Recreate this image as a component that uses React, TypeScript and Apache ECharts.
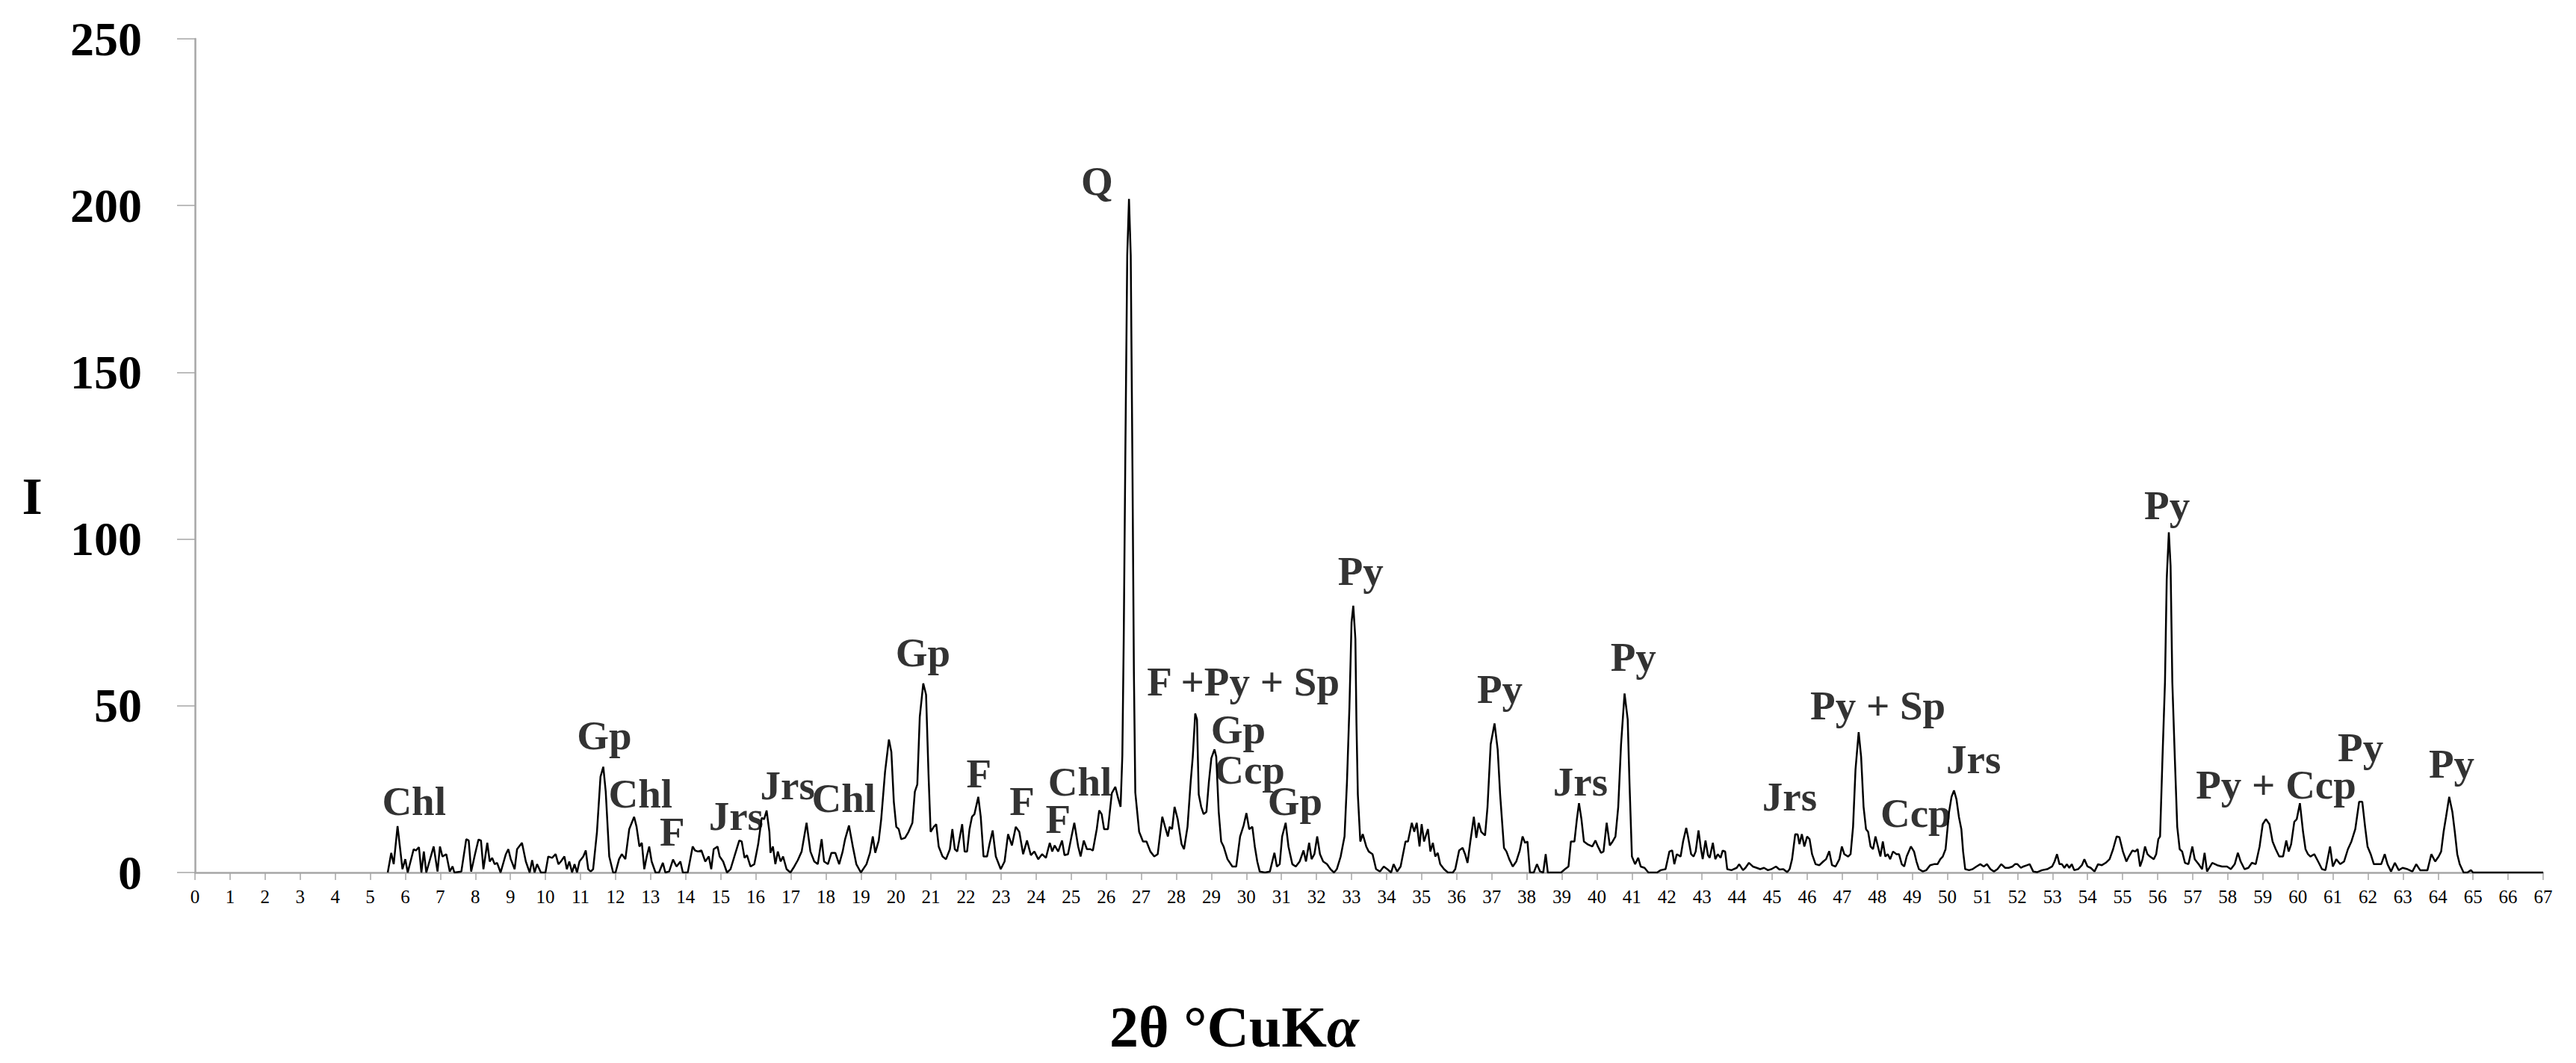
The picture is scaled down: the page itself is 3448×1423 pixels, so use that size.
import React, { useEffect, useRef } from "react";
import * as echarts from "echarts";

// 2θ (°) / intensity pairs, split by range
const scan05to15: [number, number][] = [
  [5.5, 0], [5.6, 5.9], [5.67, 2.5], [5.78, 13.9], [5.92, 1.0], [6.0, 4.0], [6.07, 0], [6.24, 7.0], [6.3, 6.6], [6.39, 7.6],
  [6.46, 0], [6.53, 6.3], [6.6, 0], [6.81, 7.8], [6.92, 0.3], [6.99, 7.8], [7.06, 4.8], [7.17, 5.5], [7.27, 0.3], [7.35, 1.8],
  [7.4, 0], [7.6, 0.3], [7.74, 10.0], [7.81, 9.6], [7.88, 0.3], [7.99, 5.5], [8.09, 9.9], [8.16, 9.6], [8.23, 1.0], [8.34, 8.9],
  [8.41, 3.3], [8.48, 4.4], [8.55, 2.5], [8.62, 2.9], [8.72, 0], [8.87, 5.5], [8.94, 7.0], [9.01, 4.0], [9.12, 1.0], [9.19, 7.0],
  [9.33, 8.9], [9.44, 3.3], [9.55, 0], [9.62, 3.7], [9.69, 0], [9.76, 2.5], [9.87, 0], [10.0, 0], [10.08, 4.8], [10.19, 4.4],
  [10.29, 5.5], [10.37, 2.5], [10.44, 3.3], [10.54, 4.8], [10.61, 1.0], [10.68, 3.3], [10.76, 0], [10.83, 2.5], [10.9, 0], [10.97, 3.3],
  [11.08, 4.8], [11.15, 6.6], [11.22, 1.0], [11.29, 0.3], [11.36, 1.0], [11.47, 12.2], [11.57, 28.7], [11.65, 31.7], [11.72, 24.2], [11.82, 4.8],
  [11.93, 0], [12.0, 0], [12.1, 4.0], [12.18, 5.5], [12.28, 4.0], [12.39, 13.0], [12.53, 16.7], [12.6, 13.7], [12.68, 7.8], [12.75, 8.9],
  [12.82, 1.0], [12.89, 4.8], [12.96, 7.8], [13.03, 3.3], [13.14, 0], [13.24, 0], [13.35, 2.9], [13.42, 0], [13.53, 0.3], [13.64, 3.9],
  [13.74, 1.8], [13.85, 3.3], [13.92, 0], [14.06, 0], [14.2, 7.8], [14.27, 6.6], [14.35, 6.3], [14.45, 6.6], [14.56, 3.3], [14.66, 4.8],
  [14.73, 1.0], [14.8, 7.0], [14.91, 7.8], [14.97, 4.8],
];

const scan15to25: [number, number][] = [
  [15.07, 3.3], [15.18, 0], [15.28, 1.0], [15.39, 4.8], [15.53, 9.6], [15.6, 9.3], [15.68, 4.4], [15.75, 5.2], [15.85, 1.8], [15.96, 2.5],
  [16.07, 8.5], [16.17, 16.4], [16.24, 16.0], [16.31, 18.6], [16.39, 12.2], [16.42, 5.9], [16.49, 7.8], [16.56, 2.5], [16.63, 6.3], [16.71, 3.3],
  [16.78, 4.8], [16.88, 1.0], [16.99, 0], [17.1, 1.8], [17.2, 3.7], [17.31, 6.3], [17.45, 14.9], [17.56, 6.3], [17.67, 3.3], [17.77, 2.5],
  [17.88, 10.0], [17.95, 3.3], [18.06, 2.5], [18.16, 5.9], [18.27, 5.9], [18.38, 2.5], [18.48, 6.3], [18.55, 10.0], [18.66, 14.1], [18.77, 7.8],
  [18.87, 2.5], [19.0, 0], [19.16, 2.5], [19.26, 5.9], [19.34, 10.8], [19.41, 5.9], [19.51, 9.6], [19.58, 16.0], [19.69, 30.2], [19.8, 39.9],
  [19.87, 36.1], [19.94, 21.2], [20.01, 13.7], [20.08, 13.0], [20.15, 10.0], [20.26, 10.4], [20.36, 12.2], [20.47, 14.9], [20.54, 24.2], [20.61, 26.4],
  [20.68, 46.6], [20.78, 56.7], [20.86, 53.3], [20.93, 29.4], [20.99, 12.2], [21.08, 13.7], [21.15, 14.5], [21.22, 7.8], [21.33, 4.8], [21.43, 4.0],
  [21.54, 7.0], [21.61, 13.0], [21.68, 7.0], [21.75, 6.3], [21.89, 14.5], [21.96, 6.3], [22.03, 6.3], [22.1, 13.0], [22.17, 16.7], [22.24, 17.5],
  [22.35, 22.7], [22.42, 16.7], [22.5, 4.8], [22.6, 4.8], [22.67, 8.5], [22.76, 12.6], [22.85, 4.8], [22.99, 1.0], [23.1, 3.3], [23.2, 11.5],
  [23.31, 8.1], [23.42, 13.7], [23.52, 12.2], [23.63, 5.5], [23.74, 9.6], [23.85, 5.2], [23.95, 6.3], [24.06, 4.0], [24.17, 5.5], [24.28, 4.4],
  [24.39, 8.9], [24.46, 6.3], [24.53, 8.1], [24.63, 6.3], [24.74, 9.6], [24.81, 5.2], [24.91, 5.5], [25.01, 10.8],
];

const scan25to35: [number, number][] = [
  [25.09, 14.9], [25.2, 7.8], [25.27, 4.8], [25.36, 9.6], [25.45, 7.0], [25.55, 7.0], [25.62, 6.6], [25.73, 13.0], [25.8, 18.6], [25.87, 17.5],
  [25.94, 13.0], [26.05, 13.0], [26.16, 23.8], [26.26, 25.7], [26.34, 22.3], [26.41, 19.7], [26.46, 35], [26.5, 70], [26.55, 130], [26.6, 185],
  [26.65, 202], [26.7, 185], [26.75, 120], [26.79, 60], [26.83, 24], [26.94, 12.2], [27.05, 9.3], [27.15, 9.3], [27.26, 6.3], [27.37, 4.8],
  [27.47, 5.5], [27.6, 16.7], [27.68, 13.7], [27.76, 10.8], [27.81, 13.7], [27.88, 13.0], [27.95, 19.7], [28.04, 16.0], [28.15, 8.5], [28.22, 7.0],
  [28.32, 13.7], [28.41, 27.2], [28.47, 34.7], [28.54, 47.7], [28.59, 45.9], [28.64, 23.4], [28.71, 19.7], [28.78, 17.5], [28.86, 18.2], [28.93, 27.2],
  [29.0, 34.3], [29.09, 36.9], [29.14, 34.7], [29.21, 18.2], [29.28, 9.3], [29.35, 7.8], [29.46, 4.0], [29.6, 1.8], [29.71, 1.8], [29.82, 10.8],
  [29.92, 14.1], [30.0, 17.8], [30.08, 13.0], [30.17, 13.7], [30.24, 7.8], [30.31, 3.3], [30.38, 0.3], [30.53, 0], [30.67, 0.3], [30.8, 5.9],
  [30.87, 1.8], [30.95, 2.5], [31.02, 10.8], [31.12, 14.9], [31.2, 7.8], [31.31, 2.5], [31.41, 1.8], [31.52, 3.3], [31.63, 6.6], [31.7, 3.3],
  [31.79, 8.9], [31.86, 4.0], [31.94, 5.5], [32.02, 10.8], [32.1, 5.5], [32.19, 3.3], [32.3, 2.5], [32.4, 1.0], [32.5, 0], [32.58, 1.0],
  [32.69, 4.8], [32.8, 10.8], [32.87, 27.2], [32.94, 49.6], [33.0, 75], [33.05, 80], [33.11, 70], [33.14, 45], [33.18, 23.4], [33.25, 9.3],
  [33.32, 11.5], [33.42, 7.8], [33.49, 6.3], [33.6, 5.5], [33.7, 1.0], [33.81, 0.3], [33.92, 1.8], [34.02, 1.0], [34.13, 0], [34.2, 2.5],
  [34.3, 0.3], [34.4, 1.8], [34.54, 9.3], [34.61, 9.3], [34.72, 14.9], [34.79, 12.2], [34.86, 14.9], [34.94, 7.8], [35.0, 14.5],
];

const scan35to45: [number, number][] = [
  [35.07, 9.3], [35.18, 13.0], [35.25, 6.3], [35.32, 8.9], [35.39, 4.8], [35.46, 5.9], [35.53, 2.5], [35.64, 1.0], [35.75, 0], [35.89, 0],
  [35.96, 1.0], [36.07, 6.6], [36.17, 7.4], [36.24, 5.5], [36.31, 2.9], [36.39, 9.3], [36.49, 16.7], [36.56, 10.4], [36.63, 14.9], [36.7, 12.2],
  [36.81, 11.1], [36.88, 19.7], [36.97, 38.4], [37.08, 44.7], [37.17, 36.9], [37.24, 23.4], [37.35, 7.4], [37.42, 6.3], [37.5, 4.0], [37.6, 1.8],
  [37.7, 3.3], [37.8, 6.6], [37.88, 10.8], [37.95, 8.9], [38.02, 9.3], [38.09, 0], [38.2, 0], [38.29, 2.5], [38.38, 0.3], [38.47, 0],
  [38.54, 5.5], [38.6, 0], [38.98, 0], [39.09, 1.0], [39.19, 1.8], [39.26, 9.3], [39.36, 9.3], [39.43, 16.0], [39.49, 20.8], [39.56, 16.0],
  [39.63, 9.3], [39.73, 8.5], [39.87, 7.8], [39.96, 9.6], [40.03, 7.8], [40.12, 5.9], [40.19, 6.3], [40.28, 14.9], [40.37, 8.1], [40.45, 9.3],
  [40.53, 10.8], [40.61, 19.7], [40.69, 38.4], [40.79, 53.7], [40.88, 45.9], [40.93, 27.2], [41.0, 4.8], [41.09, 2.5], [41.18, 4.4], [41.25, 1.8],
  [41.36, 1.4], [41.47, 0], [41.72, 0], [41.82, 0.7], [41.96, 1.0], [42.07, 6.3], [42.15, 6.6], [42.21, 2.5], [42.28, 5.5], [42.39, 4.8],
  [42.46, 9.3], [42.55, 13.4], [42.6, 10.8], [42.69, 5.5], [42.76, 4.8], [42.82, 6.3], [42.9, 12.6], [42.96, 7.8], [43.02, 4.0], [43.1, 9.6],
  [43.17, 5.2], [43.22, 4.4], [43.31, 8.9], [43.38, 4.0], [43.45, 5.5], [43.53, 4.4], [43.59, 6.6], [43.66, 6.3], [43.72, 1.0], [43.84, 0.7],
  [43.99, 1.4], [44.06, 2.5], [44.17, 0.7], [44.24, 1.4], [44.34, 2.9], [44.45, 1.8], [44.56, 1.4], [44.66, 1.0], [44.77, 1.4], [44.88, 0.7],
  [44.98, 1.0],
];

const scan45to55: [number, number][] = [
  [45.11, 1.8], [45.21, 0.9], [45.32, 1.0], [45.43, 0.1], [45.5, 1.0], [45.57, 4.0], [45.66, 11.5], [45.73, 11.4], [45.78, 8.5], [45.85, 11.5],
  [45.92, 7.8], [46.0, 10.8], [46.07, 10.0], [46.14, 5.5], [46.24, 2.5], [46.35, 2.2], [46.46, 3.3], [46.54, 4.0], [46.63, 6.4], [46.71, 2.2],
  [46.81, 1.8], [46.92, 4.0], [46.99, 7.8], [47.06, 5.5], [47.17, 4.8], [47.24, 5.5], [47.31, 13.7], [47.38, 30.9], [47.47, 42.1], [47.54, 34.7],
  [47.61, 19.7], [47.68, 13.0], [47.74, 12.2], [47.81, 7.8], [47.88, 7.0], [47.95, 10.8], [48.02, 7.8], [48.09, 4.8], [48.16, 9.3], [48.23, 4.8],
  [48.3, 5.5], [48.37, 4.0], [48.45, 6.3], [48.55, 5.5], [48.62, 5.5], [48.7, 2.5], [48.77, 1.8], [48.84, 4.8], [48.96, 7.8], [49.05, 6.3],
  [49.12, 3.3], [49.19, 1.0], [49.3, 0.3], [49.4, 0.7], [49.51, 2.2], [49.62, 2.5], [49.72, 2.5], [49.8, 4.0], [49.87, 4.8], [49.95, 7.0],
  [50.05, 18.2], [50.12, 22.7], [50.19, 24.6], [50.26, 22.0], [50.33, 16.7], [50.4, 13.0], [50.45, 6.3], [50.51, 1.0], [50.62, 0.7], [50.72, 1.0],
  [50.83, 1.8], [50.94, 2.5], [51.04, 1.8], [51.13, 2.5], [51.23, 1.0], [51.33, 0.3], [51.43, 1.0], [51.54, 2.5], [51.65, 1.4], [51.75, 1.4],
  [51.86, 1.8], [51.93, 2.5], [52.0, 2.5], [52.1, 1.4], [52.17, 1.8], [52.28, 2.2], [52.35, 2.5], [52.45, 0.3], [52.56, 0.1], [52.7, 0.7],
  [52.85, 1.0], [52.99, 1.8], [53.06, 3.3], [53.13, 5.5], [53.2, 2.5], [53.27, 2.5], [53.34, 1.4], [53.41, 2.5], [53.48, 1.4], [53.55, 2.5],
  [53.62, 0.7], [53.73, 1.0], [53.84, 2.2], [53.91, 4.0], [54.0, 1.8], [54.09, 1.4], [54.2, 0.3], [54.3, 2.5], [54.41, 2.2], [54.52, 2.9],
  [54.63, 4.0], [54.73, 7.0], [54.83, 10.8], [54.91, 10.6], [55.01, 6.3],
];

const scan55to67: [number, number][] = [
  [55.11, 3.3], [55.18, 4.8], [55.28, 6.6], [55.36, 6.3], [55.43, 7.0], [55.5, 1.8], [55.57, 4.0], [55.64, 7.8], [55.71, 5.5], [55.78, 4.8],
  [55.89, 4.0], [55.96, 5.5], [56.02, 10.0], [56.07, 10.8], [56.14, 34.7], [56.21, 57], [56.26, 88], [56.32, 102], [56.37, 92], [56.42, 57],
  [56.49, 34.7], [56.56, 13.7], [56.63, 7.0], [56.7, 6.3], [56.78, 2.9], [56.88, 2.5], [56.99, 7.8], [57.06, 4.0], [57.17, 2.5], [57.27, 1.0],
  [57.34, 5.9], [57.41, 0.3], [57.56, 2.9], [57.7, 2.2], [57.84, 1.8], [57.98, 1.8], [58.09, 1.0], [58.2, 2.5], [58.29, 5.9], [58.37, 3.3],
  [58.48, 1.0], [58.59, 1.4], [58.69, 2.9], [58.8, 2.5], [58.91, 7.8], [59.0, 14.5], [59.09, 16.0], [59.19, 14.5], [59.28, 9.3], [59.37, 7.0],
  [59.47, 4.8], [59.58, 4.8], [59.67, 9.6], [59.74, 6.3], [59.81, 8.5], [59.9, 15.2], [59.97, 16.0], [60.06, 20.8], [60.15, 12.2], [60.22, 7.0],
  [60.29, 5.5], [60.36, 4.8], [60.47, 5.5], [60.58, 3.3], [60.69, 1.0], [60.79, 0.7], [60.92, 7.8], [61.0, 1.8], [61.1, 4.0], [61.21, 2.5],
  [61.32, 3.3], [61.43, 7.0], [61.53, 9.3], [61.64, 13.0], [61.75, 21.2], [61.84, 21.2], [61.92, 13.7], [61.99, 7.8], [62.08, 5.5], [62.17, 2.5],
  [62.28, 2.5], [62.38, 2.5], [62.48, 5.5], [62.56, 2.5], [62.66, 0.3], [62.77, 2.9], [62.88, 0.7], [62.99, 1.4], [63.13, 1.0], [63.27, 0.3],
  [63.38, 2.5], [63.49, 0.7], [63.59, 0.7], [63.7, 0.7], [63.81, 5.5], [63.92, 3.3], [64.02, 4.8], [64.09, 6.3], [64.16, 12.2], [64.23, 16.7],
  [64.32, 22.7], [64.41, 18.2], [64.48, 12.2], [64.55, 5.5], [64.62, 2.5], [64.73, 0], [64.84, 0], [64.94, 0.7], [65.0, 0], [67.0, 0],
];

// phase labels: [text, 2θ, intensity] anchor (centre of label)
const phaseLabels: [string, number, number][] = [
  ["Chl", 6.25, 21.3], ["Gp", 11.68, 41.0], ["Chl", 12.71, 23.7], ["F", 13.62, 12.1], ["Jrs", 15.44, 17.0],
  ["Jrs", 16.91, 26.0], ["Chl", 18.51, 22.2], ["Gp", 20.77, 65.9], ["F", 22.37, 29.6], ["F", 23.6, 21.5],
  ["F", 24.63, 16.1], ["Chl", 25.25, 27.3], ["Q", 25.74, 207.4], ["F +Py + Sp", 29.91, 57.3], ["Gp", 29.77, 42.8],
  ["Ccp", 30.09, 30.9], ["Gp", 31.39, 21.3], ["Py", 33.26, 90.5], ["Py", 37.23, 55.1], ["Jrs", 39.53, 27.3],
  ["Py", 41.04, 64.7], ["Jrs", 45.5, 22.8], ["Py + Sp", 48.02, 50.0], ["Ccp", 49.1, 17.9], ["Jrs", 50.75, 34.0],
  ["Py", 56.27, 110.2], ["Py + Ccp", 59.38, 26.4], ["Py", 61.79, 37.6], ["Py", 64.39, 32.7],
];

const xTickMin = 0;
const xTickMax = 67;
const yTickMax = 250;

const SERIF = '"Liberation Serif", "DejaVu Serif", serif';

export default function App() {
  const ref = useRef<HTMLDivElement>(null);
  useEffect(() => {
    if (!ref.current) return;
    const chart = echarts.init(ref.current, undefined, { renderer: "svg" });
    const pattern = [...scan05to15, ...scan15to25, ...scan25to35, ...scan35to45, ...scan45to55, ...scan55to67];
    chart.setOption({
      animation: false,
      backgroundColor: "#ffffff",
      grid: { left: 261, right: 44, top: 52, bottom: 255, containLabel: false },
      xAxis: {
        type: "value",
        min: xTickMin,
        max: xTickMax,
        interval: 1,
        axisLine: { show: true, lineStyle: { color: "#a6a6a6", width: 2.5 } },
        axisTick: { show: true, length: 10, lineStyle: { color: "#a6a6a6", width: 1.5 } },
        axisLabel: { color: "#000", fontFamily: SERIF, fontSize: 25, margin: 20, showMinLabel: true, showMaxLabel: true },
        splitLine: { show: false },
      },
      yAxis: {
        type: "value",
        min: 0,
        max: yTickMax,
        interval: 50,
        axisLine: { show: true, lineStyle: { color: "#a6a6a6", width: 2.5 } },
        axisTick: { show: true, length: 24, lineStyle: { color: "#a6a6a6", width: 1.5 } },
        axisLabel: { color: "#000", fontFamily: SERIF, fontWeight: "bold", fontSize: 64, margin: 71 },
        splitLine: { show: false },
      },
      graphic: [
        {
          type: "text",
          x: 43,
          y: 664,
          style: { text: "I", fontFamily: SERIF, fontWeight: "bold", fontSize: 70, fill: "#000", textAlign: "center", textVerticalAlign: "middle" },
        },
        {
          type: "text",
          x: 1652,
          y: 1374,
          style: {
            text: "{r|2θ °CuK}{i|α}",
            textAlign: "center",
            textVerticalAlign: "middle",
            rich: {
              r: { fontFamily: SERIF, fontWeight: "bold", fontSize: 78, fill: "#000" },
              i: { fontFamily: SERIF, fontWeight: "bold", fontStyle: "italic", fontSize: 78, fill: "#000" },
            },
          },
        },
      ],
      series: [
        {
          type: "line",
          data: pattern,
          showSymbol: false,
          symbol: "none",
          lineStyle: { color: "#000", width: 2.5 },
          z: 3,
        },
        {
          type: "scatter",
          data: phaseLabels.map(([t, x, y]) => ({ name: t, value: [x, y] })),
          symbolSize: 1,
          itemStyle: { color: "rgba(0,0,0,0)" },
          label: {
            show: true,
            position: "inside",
            formatter: (p: any) => p.name,
            fontFamily: SERIF,
            fontWeight: "bold",
            fontSize: 55,
            color: "#000",
          },
          z: 4,
        },
      ],
    });
    return () => chart.dispose();
  }, []);
  return <div ref={ref} style={{ position: "fixed", left: 0, top: 0, width: 3448, height: 1423 }} />;
}
